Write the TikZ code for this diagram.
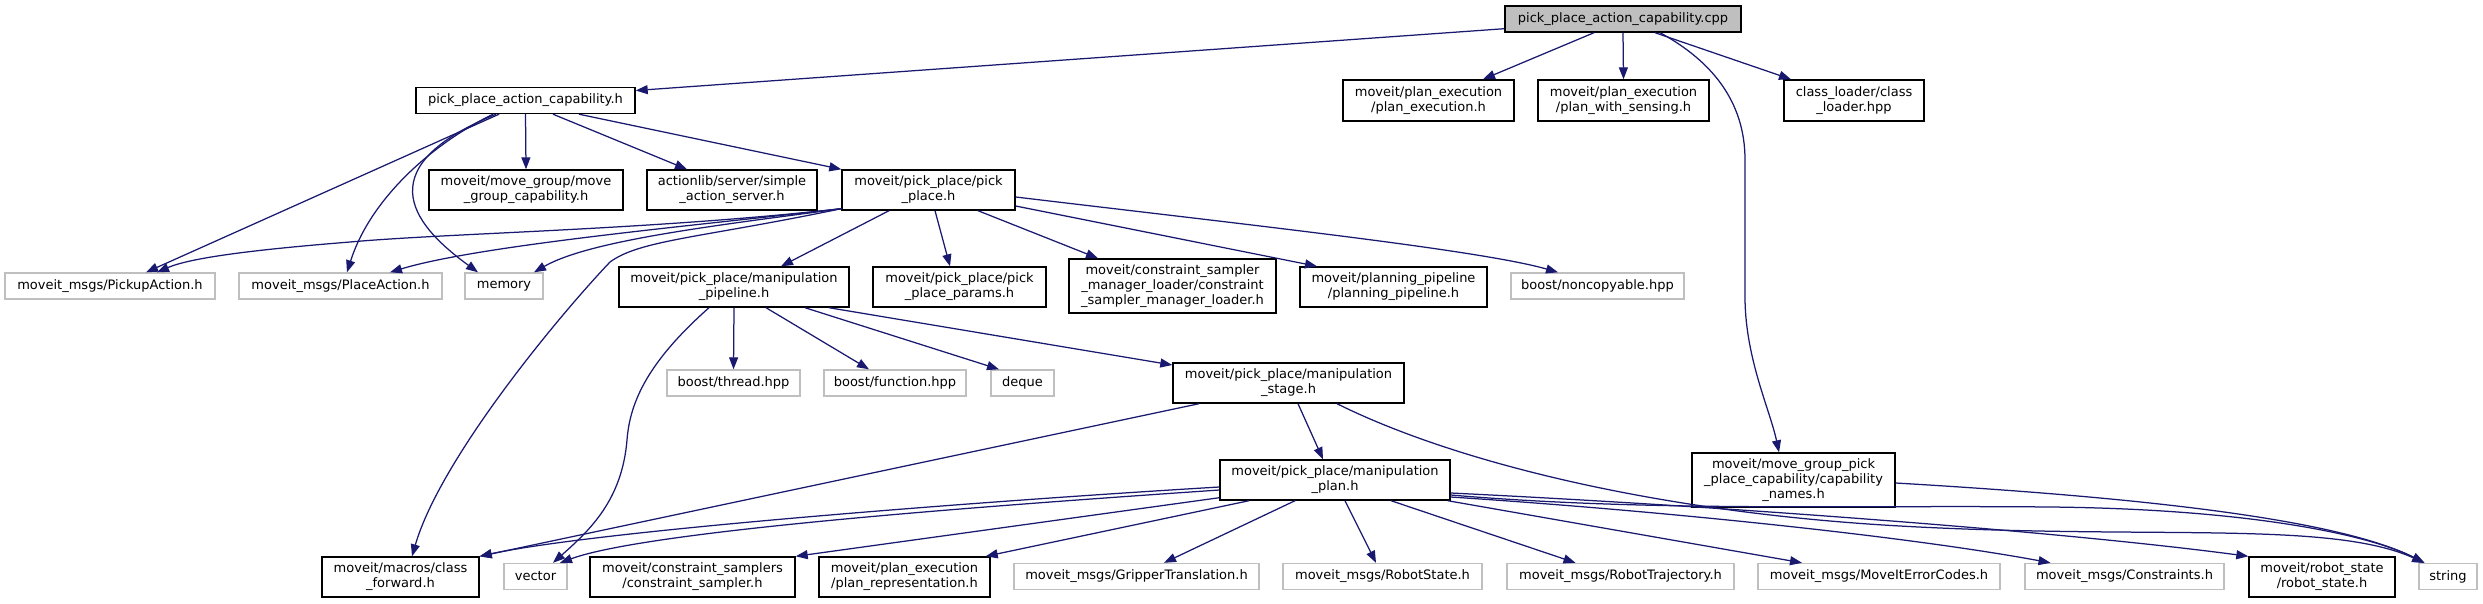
\documentclass[tikz,border=0pt]{standalone}
\usepackage{fontspec}
\setmainfont{DejaVu Sans}
\usepackage{tikz}
\usetikzlibrary{arrows.meta}
\definecolor{edgeblue}{HTML}{191970}
\definecolor{extgray}{HTML}{BFBFBF}
\newcommand{\doxfont}{\fontsize{13}{15}\selectfont}

\begin{document}
\begin{tikzpicture}[x=1pt, y=-1pt, >={Triangle[length=12pt, width=9pt]},
		hfile/.style={draw=black, line width=1.4pt, fill=white, inner sep=0pt, align=center, font=\doxfont},
		sysfile/.style={hfile, draw=extgray},
		sz/.style 2 args={minimum width=#1pt, minimum height=#2pt},
		inc/.style={->, draw=edgeblue, line width=1.25pt}]
			\useasboundingbox[fill=white] (0,0) rectangle (2483,603);
			%%%%%%%%%%%%%%%%%%%%%%%%%%%%%%%%
			\node[hfile, fill=extgray, sz={236}{26}] (cpp) at (1623,19){pick\_place\_action\_capability.cpp};
			\node[hfile, sz={219}{26}] (ppach) at (525.5,100.5){pick\_place\_action\_capability.h};
			\node[hfile, sz={171}{41}] (planexec) at (1428.5,100.5){moveit/plan\_execution\\/plan\_execution.h};
			\node[hfile, sz={171}{41}] (plansense) at (1623.5,100.5){moveit/plan\_execution\\/plan\_with\_sensing.h};
			\node[hfile, sz={140}{41}] (classloader) at (1854,100.5){class\_loader/class\\\_loader.hpp};
			%%%%%%%%%%%%%%%%%%%%%%%%%%%%%%%%
			\node[hfile, sz={194}{40}] (movegroup) at (526,190){moveit/move\_group/move\\\_group\_capability.h};
			\node[hfile, sz={170}{40}] (actionserver) at (732,190){actionlib/server/simple\\\_action\_server.h};
			\node[hfile, sz={173}{40}] (pickplace) at (928.5,190){moveit/pick\_place/pick\\\_place.h};
			%%%%%%%%%%%%%%%%%%%%%%%%%%%%%%%%
			\node[sysfile, sz={210}{26}] (pickup) at (110,286){moveit\_msgs/PickupAction.h};
			\node[sysfile, sz={203}{26}] (placeact) at (340.5,286){moveit\_msgs/PlaceAction.h};
			\node[sysfile, sz={78}{26}] (memory) at (504,286){memory};
			\node[hfile, sz={230}{40}] (pipeline) at (734,287){moveit/pick\_place/manipulation\\\_pipeline.h};
			\node[hfile, sz={173}{40}] (params) at (959.5,287){moveit/pick\_place/pick\\\_place\_params.h};
			\node[hfile, sz={207}{54}] (samplerloader) at (1172.5,286){moveit/constraint\_sampler\\\_manager\_loader/constraint\\\_sampler\_manager\_loader.h};
			\node[hfile, sz={187}{40}] (planpipe) at (1393.5,287){moveit/planning\_pipeline\\/planning\_pipeline.h};
			\node[sysfile, sz={173}{26}] (noncopy) at (1597.5,286){boost/noncopyable.hpp};
			%%%%%%%%%%%%%%%%%%%%%%%%%%%%%%%%
			\node[sysfile, sz={133}{26}] (thread) at (733.5,383){boost/thread.hpp};
			\node[sysfile, sz={142}{26}] (function) at (895,383){boost/function.hpp};
			\node[sysfile, sz={63}{26}] (deque) at (1022.5,383){deque};
			\node[hfile, sz={231}{40}] (stage) at (1288.5,383){moveit/pick\_place/manipulation\\\_stage.h};
			\node[hfile, sz={203}{54}] (capnames) at (1793.5,480){moveit/move\_group\_pick\hspace{16pt}\\\_place\_capability/capability\\\_names.h};
			\node[hfile, sz={230}{40}] (plan) at (1335,480){moveit/pick\_place/manipulation\\\_plan.h};
			%%%%%%%%%%%%%%%%%%%%%%%%%%%%%%%%
			\node[hfile, sz={157}{40}] (classfwd) at (400.5,577){moveit/macros/class\\\_forward.h};
			\node[sysfile, sz={63}{26}] (vector) at (535.5,576.5){vector};
			\node[hfile, sz={205}{40}] (sampler) at (692.5,577){moveit/constraint\_samplers\\/constraint\_sampler.h};
			\node[hfile, sz={171}{40}] (planrepr) at (904.5,577){moveit/plan\_execution\\/plan\_representation.h};
			\node[sysfile, sz={245}{26}] (gripper) at (1136.5,576.5){moveit\_msgs/GripperTranslation.h};
			\node[sysfile, sz={199}{26}] (robotstate) at (1382.5,576.5){moveit\_msgs/RobotState.h};
			\node[sysfile, sz={227}{26}] (robottraj) at (1620.5,576.5){moveit\_msgs/RobotTrajectory.h};
			\node[sysfile, sz={242}{26}] (errorcodes) at (1879,576.5){moveit\_msgs/MoveItErrorCodes.h};
			\node[sysfile, sz={199}{26}] (constraints) at (2124.5,576.5){moveit\_msgs/Constraints.h};
			\node[hfile, sz={146}{40}] (robotst) at (2322,577){moveit/robot\_state\\/robot\_state.h};
			\node[sysfile, sz={58}{26}] (string) at (2448,576.5){string};
			%%%%%%%%%%%%%%%%%%%%%%%%%%%%%%%%
			\draw[inc] ([yshift=4pt]cpp.south west) -- ([yshift=10pt]ppach.east);
			\draw[inc] ([xshift=-29pt]cpp.south) -- ([xshift=54.5pt]planexec.north);
			\draw[inc] (cpp.south) -- (plansense.north);
			\draw[inc] ([xshift=32pt]cpp.south) -- ([xshift=-63pt]classloader.north);
			\draw[inc] ([xshift=37pt]cpp.south) .. controls (1710,60) and (1745,100) .. (1745,160) -- (1745,300) .. controls (1746,360) and (1770,410) .. ([xshift=-14.5pt]capnames.north);
			%%%%%%%%%%%%%%%%%%%%%%%%%%%%%%%%
			\draw[inc] (ppach.south) -- (movegroup.north);
			\draw[inc] ([xshift=27.5pt]ppach.south) -- ([xshift=-45pt]actionserver.north);
			\draw[inc] ([xshift=53.5pt]ppach.south) -- (pickplace.north west);
			\draw[inc] ([xshift=-26.5pt]ppach.south) -- ([xshift=36pt]pickup.north);
			\draw[inc] ([xshift=-32.5pt]ppach.south) .. controls (430,145) and (370,200) .. ([xshift=6.5pt]placeact.north);
			\draw[inc] ([xshift=-29.5pt]ppach.south) .. controls (360,170) and (420,230) .. ([xshift=-26pt]memory.north);
			%%%%%%%%%%%%%%%%%%%%%%%%%%%%%%%%
			\draw[inc] ([yshift=2pt]pickplace.south west) .. controls (650,230) and (450,233) .. (350,242) .. controls (250,250) and (190,258) .. ([xshift=47pt]pickup.north);
			\draw[inc] ([yshift=2pt]pickplace.south west) .. controls (700,225) and (480,245) .. ([xshift=49.5pt]placeact.north);
			\draw[inc] ([yshift=2pt]pickplace.south west) .. controls (720,225) and (590,240) .. ([xshift=30pt]memory.north);
			\draw[inc] ([yshift=2pt]pickplace.south west) .. controls (700,238) and (640,240) .. (610,262) .. controls (555,320) and (440,460) .. ([xshift=11.5pt]classfwd.north);
			\draw[inc] ([xshift=-39.5pt]pickplace.south) -- ([xshift=47pt]pipeline.north);
			\draw[inc] ([xshift=6.5pt]pickplace.south) -- ([xshift=-9.5pt]params.north);
			\draw[inc] ([xshift=49.5pt]pickplace.south) -- ([xshift=-74.5pt]samplerloader.north);
			\draw[inc] ([yshift=-16pt]pickplace.east) -- ([xshift=-76.5pt]planpipe.north);
			\draw[inc] ([yshift=-7pt]pickplace.east) .. controls (1250,225) and (1480,250) .. ([xshift=-39.5pt]noncopy.north);
			%%%%%%%%%%%%%%%%%%%%%%%%%%%%%%%%
			\draw[inc] (pipeline.south) -- (thread.north);
			\draw[inc] ([xshift=-25pt]pipeline.south) .. controls (650,360) and (630,400) .. (627,440) .. controls (622,500) and (590,530) .. ([xshift=17.5pt]vector.north);
			\draw[inc] ([xshift=32pt]pipeline.south) -- ([xshift=-26pt]function.north);
			\draw[inc] ([xshift=71pt]pipeline.south) -- ([xshift=-23.5pt]deque.north);
			\draw[inc] ([xshift=95pt]pipeline.south) -- ([yshift=18pt]stage.west);
			%%%%%%%%%%%%%%%%%%%%%%%%%%%%%%%%
			\draw[inc] ([xshift=-89.5pt]stage.south) -- (classfwd.north east);
			\draw[inc] ([xshift=9.5pt]stage.south) -- ([xshift=-12pt]plan.north);
			\draw[inc] ([xshift=48.5pt]stage.south) .. controls (1450,460) and (1650,512) .. (1900,526) .. controls (2150,540) and (2330,520) .. ([xshift=6pt]string.north west);
			%%%%%%%%%%%%%%%%%%%%%%%%%%%%%%%%
			\draw[inc] ([yshift=-7pt]plan.west) .. controls (1000,500) and (600,530) .. (classfwd.north east);
			\draw[inc] ([yshift=-10pt]plan.west) .. controls (1000,505) and (650,530) .. ([xshift=24.5pt]vector.north);
			\draw[inc] ([yshift=3pt]plan.south west) -- (sampler.north east);
			\draw[inc] ([xshift=-86pt]plan.south) -- ([xshift=-5pt]planrepr.north east);
			\draw[inc] ([xshift=-40pt]plan.south) -- ([xshift=27.5pt]gripper.north);
			\draw[inc] ([xshift=10pt]plan.south) -- ([xshift=-6.5pt]robotstate.north);
			\draw[inc] ([xshift=56pt]plan.south) -- ([xshift=-45pt]robottraj.north);
			\draw[inc] ([xshift=-3pt]plan.south east) -- ([xshift=-77pt]errorcodes.north);
			\draw[inc] ([yshift=-17pt]plan.east) .. controls (1650,510) and (1900,535) .. ([xshift=-74pt]constraints.north);
			\draw[inc] ([yshift=-13pt]plan.east) .. controls (1700,505) and (2050,530) .. (robotst.north west);
			\draw[inc] ([yshift=-15pt]plan.east) .. controls (1650,512) and (1850,505) .. (2050,507) .. controls (2250,509) and (2370,535) .. ([xshift=6pt]string.north west);
			\draw[inc] ([yshift=-3pt]capnames.east) .. controls (2100,495) and (2330,515) .. ([xshift=6pt]string.north west);
		\end{tikzpicture}
\end{document}
